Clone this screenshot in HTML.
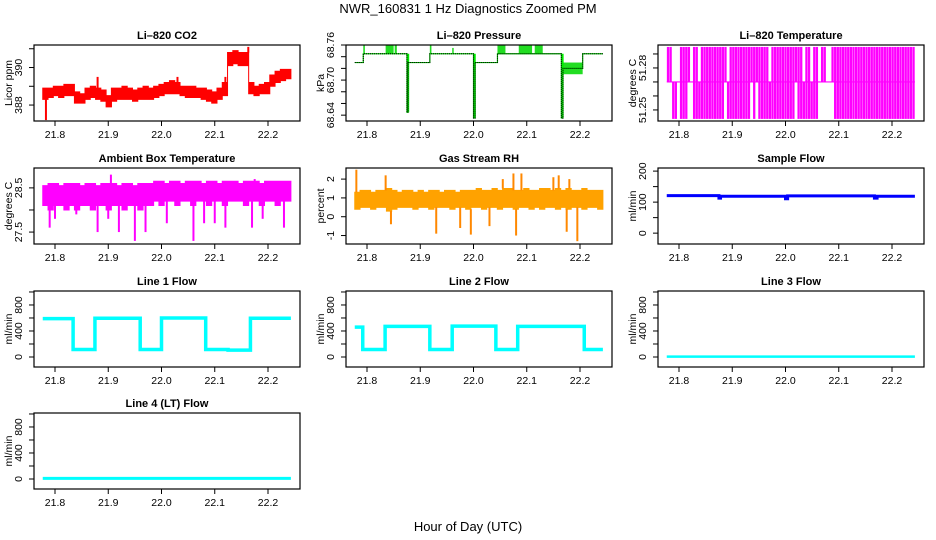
<!DOCTYPE html>
<html><head><meta charset="utf-8"><style>
html,body{margin:0;padding:0;background:#fff;}
svg{display:block;font-family:"Liberation Sans",sans-serif;}
</style></head><body>
<svg id="c" width="936" height="540" viewBox="0 0 936 540" xmlns="http://www.w3.org/2000/svg">
<text x="468" y="13" text-anchor="middle" font-size="13">NWR_160831  1 Hz Diagnostics Zoomed PM</text>
<text x="468" y="531" text-anchor="middle" font-size="13">Hour of Day (UTC)</text>
</svg>
<script>
// ---------- data ----------
const xTicks = [21.8, 21.9, 22.0, 22.1, 22.2];
const xTickLabels = ["21.8", "21.9", "22.0", "22.1", "22.2"];
const binStart = 21.777, binEnd = 22.243;

const co2Lo = [388.3,388.4,388.5,388.4,388.5,388.5,388.1,388.1,388.3,388.4,388.3,388.2,387.9,388.2,388.3,388.3,388.3,388.2,388.3,388.3,388.3,388.4,388.5,388.6,388.6,388.6,388.5,388.4,388.4,388.4,388.3,388.2,388.1,388.3,388.5,390.1,390.2,390.1,390.1,388.6,388.5,388.6,388.6,389.0,389.2,389.3,389.4];
const co2Hi = [388.9,388.9,389.0,389.0,389.1,389.1,388.7,388.6,388.9,389.0,388.9,388.8,388.5,388.9,388.9,389.0,388.9,388.8,388.9,389.0,388.9,389.0,389.1,389.2,389.3,389.2,389.0,389.0,389.0,388.9,388.9,388.8,388.7,388.9,389.2,390.8,390.9,390.8,390.8,389.2,389.0,389.1,389.2,389.6,389.8,389.9,389.9];
const co2SpikeT = [21.783,21.88,21.905,22.03,22.12,22.163];
const co2SpikeV = [387.2,389.5,387.9,389.5,389.5,391.1];

const presT = [21.777,21.793,21.875,21.877,21.918,22.0,22.003,22.045,22.165,22.168,22.205,22.243];
const presV = [68.73,68.745,68.645,68.73,68.745,68.635,68.73,68.745,68.635,68.72,68.745];
const burstStart = [21.793,21.835,21.852,21.918,21.96,22.045,22.085,22.115,22.168];
const burstEnd   = [21.796,21.85,21.856,21.921,21.962,22.06,22.11,22.13,22.205];
const burstLo    = [68.745,68.745,68.745,68.745,68.745,68.745,68.745,68.745,68.71];
const burstHi    = [68.76,68.76,68.76,68.76,68.755,68.76,68.76,68.76,68.73];

const tempStates = "uudd.bbbu.bbdbbbbbbbbbudbbbbbbbbububbbbdbbbbbbbbbubbdbbdbb.uu..ubbbbbbbbbbbbbbbbbbbbbbbbbbbbbbb";
const tempTop = 51.295, tempMid = 51.27, tempBot = 51.2436;

const ambLo = [28.1,28.0,28.1,28.1,28.0,28.1,28.0,28.1,28.1,28.0,28.1,28.1,28.0,28.1,28.1,28.0,28.1,28.1,28.0,28.1,28.1,28.2,28.1,28.2,28.2,28.1,28.2,28.2,28.1,28.2,28.2,28.1,28.2,28.2,28.1,28.2,28.2,28.2,28.1,28.2,28.2,28.1,28.2,28.2,28.1,28.2,28.2];
const ambHi = [28.55,28.6,28.6,28.55,28.6,28.6,28.6,28.55,28.6,28.6,28.55,28.6,28.6,28.6,28.55,28.6,28.6,28.55,28.6,28.6,28.6,28.65,28.65,28.6,28.65,28.65,28.6,28.65,28.65,28.65,28.6,28.65,28.65,28.6,28.65,28.65,28.65,28.6,28.65,28.65,28.65,28.6,28.65,28.65,28.65,28.65,28.65];
const ambSpikeT = [21.79,21.80,21.84,21.88,21.9,21.905,21.92,21.95,21.97,22.01,22.06,22.08,22.1,22.12,22.17,22.175,22.19,22.23];
const ambSpikeV = [27.6,27.8,27.9,27.5,27.8,28.8,27.5,27.3,27.5,27.7,27.3,27.7,27.7,27.6,27.6,28.7,27.8,27.6];

const rhLo = [0.4,0.5,0.5,0.4,0.5,0.5,0.3,0.4,0.5,0.5,0.5,0.4,0.5,0.5,0.4,0.5,0.5,0.5,0.4,0.5,0.5,0.4,0.5,0.5,0.4,0.5,0.5,0.4,0.5,0.5,0.4,0.5,0.5,0.4,0.5,0.4,0.5,0.5,0.4,0.5,0.4,0.5,0.5,0.4,0.5,0.5,0.4];
const rhHi = [1.3,1.4,1.4,1.3,1.4,1.4,1.5,1.4,1.3,1.4,1.4,1.3,1.4,1.3,1.4,1.4,1.3,1.4,1.4,1.3,1.4,1.4,1.4,1.5,1.4,1.4,1.5,1.4,1.5,1.5,1.4,1.4,1.5,1.4,1.4,1.5,1.5,1.4,1.5,1.4,1.5,1.4,1.4,1.5,1.4,1.4,1.4];
const rhSpikeT = [21.78,21.835,21.845,21.93,21.975,21.995,22.03,22.055,22.075,22.08,22.09,22.15,22.16,22.175,22.18,22.195];
const rhSpikeV = [2.5,2.2,-0.4,-0.9,-0.6,-0.95,-0.5,2.0,2.3,-1.0,2.3,2.1,2.2,-0.8,2.0,-1.3];

const sampleT = [21.777,21.875,21.878,22.0,22.004,22.167,22.172,22.243];
const sampleV = [121,113,119,111,120,113,119];

const line1T = [21.777,21.834,21.875,21.96,22.0,22.083,22.125,22.167,22.243];
const line1V = [590,115,595,115,600,115,105,595];
const line2T = [21.777,21.792,21.834,21.918,21.96,22.042,22.083,22.208,22.243];
const line2V = [460,115,470,115,475,115,470,115];
const line3T = [21.777,22.243];
const line3V = [5];
const line4T = [21.777,22.243];
const line4V = [10];

// ---------- layout ----------
const svg = document.getElementById('c');
const NS = 'http://www.w3.org/2000/svg';
const colLeft = [34, 346, 658];
const rowTop = [45, 168, 291, 413];
const W = 266, H = 76;

function mk(tag, attrs, parent) {
  const e = document.createElementNS(NS, tag);
  for (const k in attrs) e.setAttribute(k, attrs[k]);
  (parent || svg).appendChild(e);
  return e;
}

function panel(col, row, name, title, ylab, ymin, ymax, yTicks, yLabels) {
  const L = colLeft[col], T = rowTop[row];
  const g = mk('g', {});
  
  
  const X = h => L + 21 + (h - 21.8) * 532.5;
  const Y = v => T + H - (v - ymin) / (ymax - ymin) * H;
  const t = mk('text', {x: L + W / 2, y: T - 6, 'text-anchor': 'middle', 'font-size': 11, 'font-weight': 'bold'}, g);
  t.textContent = title;
  
  
  const yl = mk('text', {x: 0, y: 0, 'text-anchor': 'middle', 'font-size': 10.5, transform: `translate(${L - 22},${T + H / 2}) rotate(-90)`}, g);
  yl.textContent = ylab;
  
  
  const plot = mk('g', {}, g);
  
  
  const box = mk('rect', {x: L, y: T, width: W, height: H, fill: 'none', stroke: '#000', 'stroke-width': 1.2}, g);
  
  
  xTicks.forEach((v, i) => {
    const x = X(v);
    const tk = mk('line', {x1: x, x2: x, y1: T + H, y2: T + H + 5, stroke: '#000'}, g);
    
    
    const lb = mk('text', {x: x, y: T + H + 17, 'text-anchor': 'middle', 'font-size': 10.5}, g);
    lb.textContent = xTickLabels[i];
    
    
  });
  yTicks.forEach(v => {
    const y = Y(v);
    const tk = mk('line', {x1: L - 5, x2: L, y1: y, y2: y, stroke: '#000'}, g);
    
    
  });
  yLabels.forEach(v => {
    const lb = mk('text', {x: 0, y: 0, 'text-anchor': 'middle', 'font-size': 10.5, transform: `translate(${L - 12},${Y(parseFloat(v))}) rotate(-90)`}, g);
    lb.textContent = String(v);
    
    
  });
  return {X, Y, plot};
}

function band(p, name, lo, hi, color) {
  const bw = (binEnd - binStart) / lo.length;
  const up = [], dn = [];
  for (let i = 0; i < lo.length; i++) {
    const a = binStart + i * bw, b = a + bw;
    up.push(`${p.X(a)},${p.Y(hi[i])}`, `${p.X(b)},${p.Y(hi[i])}`);
    dn.push(`${p.X(a)},${p.Y(lo[i])}`, `${p.X(b)},${p.Y(lo[i])}`);
  }
  dn.reverse();
  const e = mk('polygon', {points: up.concat(dn).join(' '), fill: color, stroke: color, 'stroke-width': 1}, p.plot);
  
  
  return bw;
}
function spikes(p, name, ts, vs, lo, hi, color) {
  const bw = (binEnd - binStart) / lo.length;
  ts.forEach((t, i) => {
    const k = Math.max(0, Math.min(lo.length - 1, Math.floor((t - binStart) / bw)));
    const base = vs[i] < lo[k] ? lo[k] : hi[k];
    const e = mk('line', {x1: p.X(t), x2: p.X(t), y1: p.Y(base), y2: p.Y(vs[i]), stroke: color, 'stroke-width': 2}, p.plot);
    
    
  });
}
function step(p, name, ts, vs, color, width, extra) {
  const pts = [];
  for (let i = 0; i < vs.length; i++) {
    pts.push(`${p.X(ts[i])},${p.Y(vs[i])}`, `${p.X(ts[i + 1])},${p.Y(vs[i])}`);
  }
  const e = mk('polyline', Object.assign({points: pts.join(' '), fill: 'none', stroke: color, 'stroke-width': width}, extra || {}), p.plot);
  
  
}

// CO2
let p = panel(0, 0, 'co2', 'Li\u2013820 CO2', 'Licor ppm', 387.15, 391.2, [388, 389, 390, 391], ["388", "390"]);
band(p, 'co2', co2Lo, co2Hi, '#ff0000');
spikes(p, 'co2', co2SpikeT, co2SpikeV, co2Lo, co2Hi, '#ff0000');

// Pressure
p = panel(1, 0, 'pressure', 'Li\u2013820 Pressure', 'kPa', 68.630, 68.760, [68.64, 68.66, 68.68, 68.70, 68.72, 68.74, 68.76], ["68.64", "68.70", "68.76"]);
burstStart.forEach((s, i) => {
  const r = mk('rect', {x: p.X(s), y: p.Y(burstHi[i]), width: Math.max(1.5, p.X(burstEnd[i]) - p.X(s)), height: p.Y(burstLo[i]) - p.Y(burstHi[i]), fill: '#22dd22'}, p.plot);
  
  
});
for (let i = 1; i < presV.length; i++) {
  if (presV[i] < 68.7) {
    const r = mk('line', {x1: p.X(presT[i]) + 1, x2: p.X(presT[i]) + 1, y1: p.Y(68.745), y2: p.Y(presV[i]), stroke: '#00ee00', 'stroke-width': 2.5}, p.plot);
    
    
  }
}
step(p, 'pressure', presT, presV, '#00cc00', 1.2);
step(p, 'pressure-dotted', presT, presV, '#000', 1, {'stroke-dasharray': '1,1'});

// Temperature
p = panel(2, 0, 'li820-temperature', 'Li\u2013820 Temperature', 'degrees C', 51.2421, 51.2964, [51.25, 51.26, 51.27, 51.28, 51.29], ["51.25", "51.28"]);
{
  const bw = (binEnd - binStart) / tempStates.length;
  const base = mk('line', {x1: p.X(binStart), x2: p.X(binEnd), y1: p.Y(tempMid), y2: p.Y(tempMid), stroke: '#ff00ff', 'stroke-width': 1.2}, p.plot);
  
  
  for (let i = 0; i < tempStates.length; i++) {
    const s = tempStates[i];
    const x = p.X(binStart + (i + 0.5) * bw);
    const top = (s === 'u' || s === 'b') ? tempTop : tempMid;
    const bot = (s === 'd' || s === 'b') ? tempBot : tempMid;
    if (top === bot) continue;
    const r = mk('rect', {x: x - 1.2, y: p.Y(top), width: 2.3, height: p.Y(bot) - p.Y(top), fill: '#ff00ff'}, p.plot);
    
    
  }
}

// Ambient
p = panel(0, 1, 'ambient', 'Ambient Box Temperature', 'degrees C', 27.23, 28.95, [27.5, 28.0, 28.5], ["27.5", "28.5"]);
band(p, 'ambient', ambLo, ambHi, '#ff00ff');
spikes(p, 'ambient', ambSpikeT, ambSpikeV, ambLo, ambHi, '#ff00ff');

// RH
p = panel(1, 1, 'rh', 'Gas Stream RH', 'percent', -1.45, 2.59, [-1, 0, 1, 2], ["-1", "0", "1", "2"]);
band(p, 'rh', rhLo, rhHi, '#ffa200');
spikes(p, 'rh', rhSpikeT, rhSpikeV, rhLo, rhHi, '#ff8800');

// Sample flow
p = panel(2, 1, 'sample-flow', 'Sample Flow', 'ml/min', -35, 210, [0, 50, 100, 150, 200], ["0", "100", "200"]);
step(p, 'sample-flow', sampleT, sampleV, '#0000ff', 3);

// Line flows
const flowTicks = [0, 200, 400, 600, 800, 1000], flowLabels = ["0", "400", "800"];
p = panel(0, 2, 'line1-flow', 'Line 1 Flow', 'ml/min', -154, 1015, flowTicks, flowLabels);
step(p, 'line1-flow', line1T, line1V, '#00ffff', 3.5);
p = panel(1, 2, 'line2-flow', 'Line 2 Flow', 'ml/min', -154, 1015, flowTicks, flowLabels);
step(p, 'line2-flow', line2T, line2V, '#00ffff', 3.5);
p = panel(2, 2, 'line3-flow', 'Line 3 Flow', 'ml/min', -154, 1015, flowTicks, flowLabels);
step(p, 'line3-flow', line3T, line3V, '#00ffff', 2.5);
p = panel(0, 3, 'line4-flow', 'Line 4 (LT) Flow', 'ml/min', -154, 1015, flowTicks, flowLabels);
step(p, 'line4-flow', line4T, line4V, '#00ffff', 3);
</script>
</body></html>
